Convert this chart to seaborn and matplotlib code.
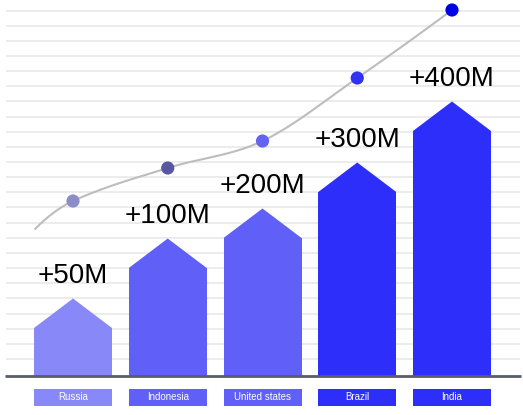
import numpy as np
import matplotlib
matplotlib.use("Agg")
import matplotlib.pyplot as plt
import seaborn as sns

# ---- data ----
countries = ["Russia", "Indonesia", "United states", "Brazil", "India"]
value_labels = ["+50M", "+100M", "+200M", "+300M", "+400M"]
bar_heights = [48, 108, 138, 184, 245]          # shoulder height of each arrow-bar
peak_extra = 29.5                                # height of the triangular top
bar_colors = ["#8888f8", "#6060f8", "#6060f8", "#2e2efa", "#2e2efa"]
curve_points = [175, 208, 235, 298, 366]         # curve marker heights
curve_start = (-0.40, 147)                       # where the grey curve begins
point_colors = ["#8c8cc8", "#5858a0", "#6464f4", "#3232f4", "#0000e6"]

sns.set_style("white")
plt.rcParams["font.family"] = ["Liberation Sans", "DejaVu Sans"]

fig = plt.figure(figsize=(5.23, 4.15), dpi=100)
ax = fig.add_axes([0, 0, 1, 1])

spacing = 94.75  # px per category
xl = -73 / spacing
xr = (523 - 73) / spacing
ax.set_xlim(xl, xr)
ax.set_ylim(-39, 376)

# background stripes
grid_y = 17 + 15.15 * np.arange(24)
ax.hlines(grid_y, xl + 6 / spacing, xl + 520 / spacing, colors="#ebebeb", lw=1.3, zorder=0)

bw = 78 / spacing
sns.barplot(x=countries, y=bar_heights, hue=countries, palette=bar_colors,
            width=bw, saturation=1, linewidth=0, legend=False, ax=ax, zorder=2)
ax.set_xlim(xl, xr)
ax.set_ylim(-39, 376)

for i, (h, c) in enumerate(zip(bar_heights, bar_colors)):
    ax.fill([i - bw / 2, i, i + bw / 2], [h, h + peak_extra, h], color=c, lw=0, zorder=2)
    ax.text(i, h + peak_extra + 15.5, value_labels[i], ha="center", va="baseline",
            fontsize=20, color="black", zorder=4)
    # label box under baseline
    ax.bar(i, 16.7, bottom=-29.7, width=bw, color=c, linewidth=0, zorder=2)
    ax.text(i, -21.3, countries[i], ha="center", va="center", fontsize=7,
            color="white", zorder=4)

# baseline
ax.hlines(0, xl + 5 / spacing, xl + 521 / spacing, colors="#585d68", lw=2.0, zorder=3)

# smooth grey curve: Catmull-Rom style Hermite spline through the points
kx = np.array([curve_start[0]] + list(range(len(countries))), dtype=float) * spacing
ky = np.array([curve_start[1]] + curve_points, dtype=float)
n = len(kx)
m = np.zeros(n)
for k in range(1, n - 1):
    m[k] = (ky[k + 1] - ky[k - 1]) / (kx[k + 1] - kx[k - 1])
m[0] = 2 * (ky[1] - ky[0]) / (kx[1] - kx[0]) - m[1]
m[-1] = 2 * (ky[-1] - ky[-2]) / (kx[-1] - kx[-2]) - m[-2]
cx, cy = [], []
for k in range(n - 1):
    hh = kx[k + 1] - kx[k]
    t = np.linspace(0, 1, 50)
    h00 = 2 * t ** 3 - 3 * t ** 2 + 1
    h10 = t ** 3 - 2 * t ** 2 + t
    h01 = -2 * t ** 3 + 3 * t ** 2
    h11 = t ** 3 - t ** 2
    cx.extend(kx[k] + t * hh)
    cy.extend(h00 * ky[k] + h10 * hh * m[k] + h01 * ky[k + 1] + h11 * hh * m[k + 1])
ax.plot(np.array(cx) / spacing, cy, color="#bdbdbd", lw=1.5, zorder=3,
        solid_capstyle="round")

sns.scatterplot(x=list(range(len(countries))), y=curve_points, hue=countries,
                palette=point_colors, s=90, linewidth=0, legend=False, ax=ax, zorder=5)

ax.set_xlim(xl, xr)
ax.set_ylim(-39, 376)
ax.axis("off")
fig.savefig("out.png", dpi=100)
